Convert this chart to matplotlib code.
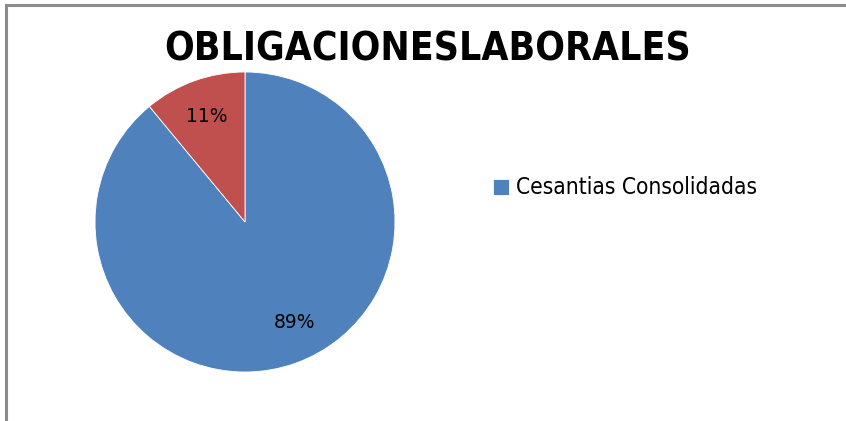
import matplotlib
matplotlib.use('agg')
import matplotlib.pyplot as plt
from matplotlib.patches import Rectangle

labels = ['Cesantias Consolidadas', 'Otras obligaciones']
values = [89, 11]
colors = ['#4F81BD', '#C0504D']
title = 'OBLIGACIONESLABORALES'

fig = plt.figure(figsize=(8.46, 4.21), dpi=100)

# chart frame (right/bottom edges run off the picture)
fig.patches.append(Rectangle((5.5 / 846, -0.1), 1.2, (421 - 4.5) / 421 + 0.1,
                             transform=fig.transFigure, fill=False,
                             edgecolor='#8c8c8c', linewidth=2.2))

ax = fig.add_axes([95 / 846, (421 - 372) / 421, 300 / 846, 300 / 421])
wedges, texts, autotexts = ax.pie(values, colors=colors, startangle=90, counterclock=False,
                                  autopct='%d%%', pctdistance=0.75, radius=1,
                                  wedgeprops={'edgecolor': 'white', 'linewidth': 0.6},
                                  textprops={'fontsize': 13.5})
autotexts[0].set_position((0.33, -0.667))
ax.set_xlim(-1, 1)
ax.set_ylim(-1, 1)
ax.set_aspect('equal')

fig.text(428 / 846, 1 - 49.5 / 421, title, ha='center', va='center', fontsize=28,
         fontweight='bold', fontstretch='condensed')

fig.legend([wedges[0]], [labels[0]], loc='center left', bbox_to_anchor=(473 / 846, 1 - 188 / 421),
           frameon=False, handlelength=0.7, handleheight=0.7, handletextpad=0.3,
           prop={'size': 16.3, 'stretch': 'condensed'})

fig.savefig('out.png', dpi=100)
